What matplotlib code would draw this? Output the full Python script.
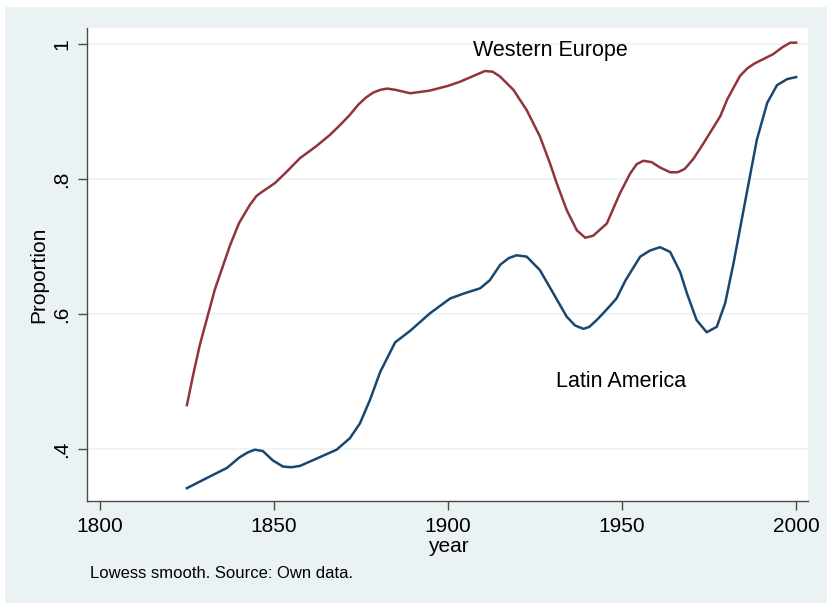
import matplotlib.pyplot as plt
from matplotlib.patches import Rectangle

# Lowess-smoothed proportions
we_year = [1825, 1826.8, 1828.7, 1833, 1837.4, 1840, 1843, 1845, 1846.6, 1848.3,
           1850.3, 1853.5, 1857.5, 1862, 1866, 1869, 1871.8, 1874.2, 1876.5, 1878.5,
           1880.5, 1882.5, 1885, 1889.1, 1894.8, 1900, 1903.4, 1907, 1910.6, 1912.8,
           1914.9, 1918.8, 1922.6, 1926.4, 1929.3, 1931.2, 1934.1, 1937, 1939.4,
           1941.7, 1945.6, 1949.4, 1952.3, 1954.2, 1956.1, 1958.5, 1960.9, 1963.8,
           1966, 1968, 1970.5, 1973.4, 1978.2, 1980.2, 1983.9, 1986, 1988,
           1993.4, 1996, 1998.3, 2000]
we_prop = [0.465, 0.510, 0.554, 0.636, 0.702, 0.735, 0.761, 0.775, 0.781, 0.787,
           0.794, 0.810, 0.831, 0.848, 0.865, 0.880, 0.895, 0.910, 0.921, 0.928,
           0.932, 0.934, 0.932, 0.927, 0.931, 0.938, 0.944, 0.952, 0.960, 0.959,
           0.952, 0.932, 0.902, 0.863, 0.823, 0.794, 0.754, 0.724, 0.713,
           0.716, 0.734, 0.779, 0.808, 0.822, 0.827, 0.825, 0.817, 0.810,
           0.810, 0.815, 0.830, 0.853, 0.893, 0.918, 0.953, 0.964, 0.971,
           0.985, 0.995, 1.002, 1.002]

la_year = [1825, 1830.7, 1836.5, 1840.2, 1842.5, 1844.5, 1846.8, 1849.7, 1852.6,
           1855, 1857.5, 1863.2, 1868, 1871.8, 1874.7, 1877.6, 1880.5, 1884.8,
           1889.1, 1894.8, 1900.6, 1904.9, 1909.2, 1912, 1915, 1917.5, 1919.7,
           1922.6, 1926.4, 1930.2, 1934.1, 1936.5, 1938.9, 1940.6, 1942.7,
           1945.1, 1948.4, 1951, 1955.2, 1958, 1960.9, 1963.8, 1966.7, 1968.6,
           1971.4, 1974.3, 1977.2, 1979.6, 1982, 1985.8, 1988.7, 1991.7, 1994.5,
           1997.4, 2000]
la_prop = [0.342, 0.357, 0.372, 0.388, 0.395, 0.399, 0.397, 0.383, 0.374,
           0.373, 0.375, 0.388, 0.399, 0.416, 0.438, 0.473, 0.514, 0.558,
           0.575, 0.601, 0.623, 0.631, 0.638, 0.650, 0.673, 0.683, 0.687,
           0.685, 0.665, 0.631, 0.596, 0.583, 0.578, 0.581, 0.591,
           0.604, 0.623, 0.650, 0.685, 0.694, 0.699, 0.692, 0.662, 0.631,
           0.591, 0.573, 0.581, 0.616, 0.675, 0.779, 0.858, 0.913, 0.939,
           0.948, 0.951]

x_ticks = [1800, 1850, 1900, 1950, 2000]
y_ticks = [0.4, 0.6, 0.8, 1.0]
y_labels = [".4", ".6", ".8", "1"]

BG = "#EAF2F3"
AXIS = "#4a4a4a"
plt.rcParams["font.family"] = ["Liberation Sans", "DejaVu Sans"]

fig = plt.figure(figsize=(8.27, 6.03), dpi=100)
fig.patch.set_facecolor("white")
# light Stata-style outer region
fig.patches.append(Rectangle((5 / 827, 0), 1, 1 - 7 / 603, transform=fig.transFigure,
                             facecolor=BG, edgecolor="none", zorder=-10))

ax = fig.add_axes([87 / 827, 1 - 501 / 603, (808 - 87) / 827, (501 - 28) / 603])
ax.set_facecolor("white")

ax.plot(we_year, we_prop, color="#90353B", lw=1.8, zorder=3, solid_joinstyle="round")
ax.plot(la_year, la_prop, color="#1A476F", lw=1.8, zorder=3, solid_joinstyle="round")

ax.set_xlim(1796.3, 2003.4)
ax.set_ylim(0.323, 1.0237)
ax.set_xticks(x_ticks)
ax.set_yticks(y_ticks)
ax.set_yticklabels(y_labels, rotation=90, va="center")
ax.grid(axis="y", color=BG, lw=1.2)
ax.set_axisbelow(True)

for side in ["top", "right"]:
    ax.spines[side].set_visible(False)
for side in ["left", "bottom"]:
    ax.spines[side].set_color(AXIS)
    ax.spines[side].set_linewidth(1.0)
ax.tick_params(axis="both", length=6.5, width=1.0, color=AXIS, labelsize=15, pad=5)

ax.text(1907.2, 0.990, "Western Europe", fontsize=15.5, ha="left", va="center")
ax.text(1931, 0.50, "Latin America", fontsize=15.5, ha="left", va="center")

fig.text(448 / 827, 1 - 546 / 603, "year", fontsize=15, ha="center", va="center")
fig.text(38.5 / 827, 1 - 275 / 603, "Proportion", fontsize=15, rotation=90,
         ha="center", va="center")
fig.text(90 / 827, 1 - 574 / 603, "Lowess smooth. Source: Own data.", fontsize=12,
         ha="left", va="center")

fig.savefig("out.png", dpi=100, facecolor=fig.get_facecolor())
